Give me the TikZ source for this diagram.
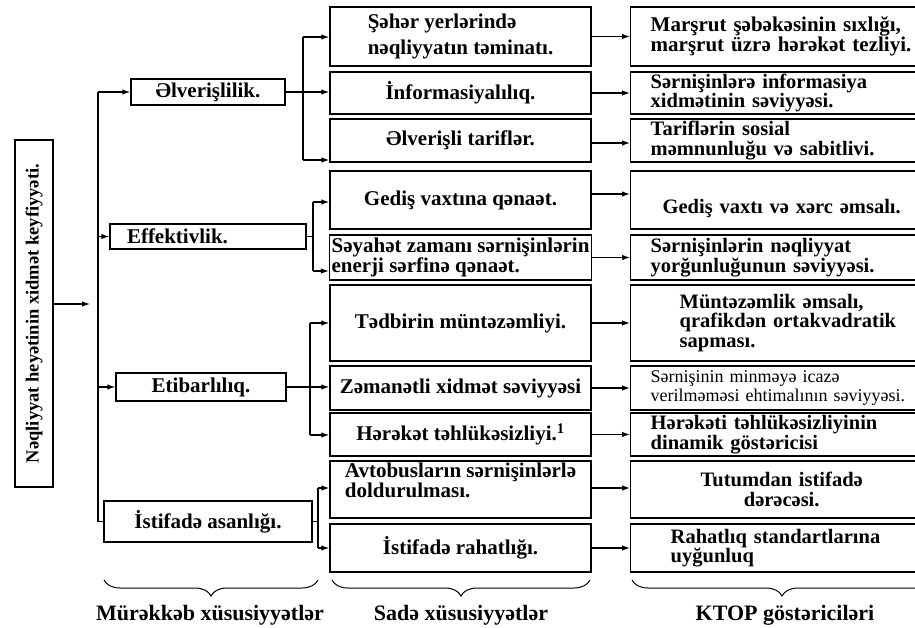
\documentclass[tikz,border=0pt]{standalone}
\usepackage{fontspec}
\setmainfont{Liberation Serif}
\usetikzlibrary{arrows.meta,decorations.pathreplacing}

\begin{document}
\begin{tikzpicture}[
  x=1pt, y=-1pt,
  >={Latex[length=8pt,width=5.5pt]},
  box/.style={draw, line width=1.4pt, font=\bfseries\fontsize{21}{18}\selectfont, inner sep=2pt},
  pbox/.style={box},
  sbox/.style={box, minimum width=261pt},
  kbox/.style={box, anchor=west, align=left, text width=290pt, inner xsep=20pt,
    font=\bfseries\fontsize{20.5}{19.5}\selectfont},
  arr/.style={->, line width=1.2pt},
  lnk/.style={line width=1.2pt},
  brc/.style={decorate, decoration={brace, mirror, amplitude=16pt}, line width=1pt},
  colname/.style={font=\bfseries\fontsize{22}{22}\selectfont},
]
\useasboundingbox (0,0) rectangle (915,628);
\clip (0,0) rectangle (915,628);

% ----- root -----
\node[box, line width=2pt, rotate=90, minimum width=347pt, minimum height=38pt,
  font=\bfseries\fontsize{18.5}{18}\selectfont] (root) at (34,313.5)
  {Nəqliyyat heyətinin xidmət keyfiyyəti.};
\coordinate (rootarr) at (90,304);
\draw[arr] (root.south |- rootarr) -- (rootarr);

% ----- complex properties -----
\node[pbox, minimum width=154pt, minimum height=26pt] (alv) at (208,92) {Əlverişlilik.};
\node[pbox, minimum width=196pt, minimum height=25pt, align=left, text width=162pt,
  inner xsep=17pt] (eff) at (208,236.5) {Effektivlik.};
\node[pbox, minimum width=170pt, minimum height=28pt] (eti) at (201,387) {Etibarlılıq.};
\node[pbox, minimum width=208pt, minimum height=41pt] (ist) at (208,521.5) {İstifadə asanlığı.};

% trunk
\coordinate (tr1) at (98,92);
\coordinate (tr2) at (98,521.5);
\draw[lnk] (tr1) -- (tr2);
\draw[arr] (tr1) -- (alv.west);
\draw[arr] (tr1 |- eff.west) -- (eff.west);
\draw[arr] (tr1 |- eti.west) -- (eti.west);
\draw[lnk] (tr2) -- (ist.west);

% ----- simple properties -----
\node[sbox, minimum height=59pt, align=left] (c1) at (460.5,36.5)
  {Şəhər yerlərində\\[6pt]nəqliyyatın təminatı.};
\node[sbox, minimum height=42pt] (c2) at (460.5,93) {İnformasiyalılıq.};
\node[sbox, minimum height=43pt] (c3) at (460.5,140.5) {Əlverişli tariflər.};
\node[sbox, minimum height=58pt] (c4) at (460.5,200) {Gediş vaxtına qənaət.};
\node[sbox, minimum height=45pt, align=left] (c5) at (460.5,257.5)
  {Səyahət zamanı sərnişinlərin\\enerji sərfinə qənaət.};
\node[sbox, minimum height=76pt] (c6) at (460.5,323) {Tədbirin müntəzəmliyi.};
\node[sbox, minimum height=44pt] (c7) at (460.5,388) {Zəmanətli xidmət səviyyəsi};
\node[sbox, minimum height=43pt] (c8) at (460.5,434.5) {Hərəkət təhlükəsizliyi.\textsuperscript{1}};
\node[sbox, minimum height=57pt] (c9) at (460.5,489.5)
  {\raisebox{7pt}[\height][\depth]{\begin{tabular}{@{}l@{}}Avtobusların sərnişinlərlə\\doldurulması.\end{tabular}}};
\node[sbox, minimum height=48pt] (c10) at (460.5,548) {İstifadə rahatlığı.};

% branches
\coordinate (a1) at (303,37);
\coordinate (a3) at (303,160);
\draw[lnk] (a1) -- (a3);
\draw[arr] (a1) -- (a1 -| c1.west);
\draw[arr] (alv.east) -- (alv.east -| c2.west);
\draw[arr] (a3) -- (a3 -| c3.west);

\coordinate (e1) at (313,202);
\coordinate (e2) at (313,271);
\draw[lnk] (eff.east) -- (eff.east -| e1);
\draw[lnk] (e1) -- (e2);
\draw[arr] (e1) -- (e1 -| c4.west);
\draw[arr] (e2) -- (e2 -| c5.west);

\coordinate (t1) at (310,323);
\coordinate (t3) at (310,435);
\draw[lnk] (t1) -- (t3);
\draw[arr] (t1) -- (t1 -| c6.west);
\draw[arr] (eti.east) -- (eti.east -| c7.west);
\draw[arr] (t3) -- (t3 -| c8.west);

\coordinate (s1) at (318,488);
\coordinate (s2) at (318,548);
\draw[lnk] (ist.east) -- (ist.east -| s1);
\draw[lnk] (s1) -- (s2);
\draw[arr] (s1) -- (s1 -| c9.west);
\draw[arr] (s2) -- (s2 -| c10.west);

% ----- KTOP indicators -----
\node[kbox, minimum height=59pt, font=\bfseries\fontsize{21}{20}\selectfont] (d1) at (630,36.5)
  {Marşrut şəbəkəsinin sıxlığı,\\marşrut üzrə hərəkət tezliyi.};
\node[kbox, minimum height=42pt] (d2) at (630,93)
  {Sərnişinlərə informasiya\\xidmətinin səviyyəsi.};
\node[kbox, minimum height=43pt] (d3) at (630,140.5)
  {Tariflərin sosial\\məmnunluğu və sabitlivi.};
\node[kbox, minimum height=58pt, align=center, text width=262pt] (d4) at (630,200)
  {\raisebox{-9pt}[\height][\depth]{Gediş vaxtı və xərc əmsalı.}};
\node[kbox, minimum height=45pt] (d5) at (630,257.5)
  {Sərnişinlərin nəqliyyat\\yorğunluğunun səviyyəsi.};
\node[kbox, minimum height=76pt, inner xsep=49pt] (d6) at (630,323)
  {Müntəzəmlik əmsalı,\\qrafikdən ortakvadratik\\sapması.};
\node[kbox, minimum height=44pt, font=\fontsize{18}{19}\selectfont] (d7) at (630,388)
  {Sərnişinin minməyə icazə\\verilməməsi ehtimalının səviyyəsi.};
\node[kbox, minimum height=43pt] (d8) at (630,434.5)
  {Hərəkəti təhlükəsizliyinin\\dinamik göstəricisi};
\node[kbox, minimum height=57pt, align=center, text width=262pt] (d9) at (630,489.5)
  {Tutumdan istifadə\\dərəcəsi.};
\node[kbox, minimum height=48pt, inner xsep=40pt] (d10) at (630,548)
  {Rahatlıq standartlarına\\uyğunluq};

% simple -> indicators
\foreach \i/\dy in {1/0,2/0,3/-2.5,4/6,5/0,6/0,7/0,8/0,9/1.5,10/0}
  \draw[arr] ([yshift=\dy]c\i.east) -- ([yshift=\dy]c\i.east -| d\i.west);

% ----- braces -----
\draw[brc] (104,580) -- (318,580);
\draw[brc] (332,580) -- (590,580);
\draw[brc] (632,580) -- (932,580);
\node[colname] (lab1) at (210,615) {Mürəkkəb xüsusiyyətlər};
\node[colname] (lab2) at (461,615) {Sadə xüsusiyyətlər};
\node[colname] (lab3) at (785,615) {KTOP göstəriciləri};

\end{tikzpicture}
\end{document}
